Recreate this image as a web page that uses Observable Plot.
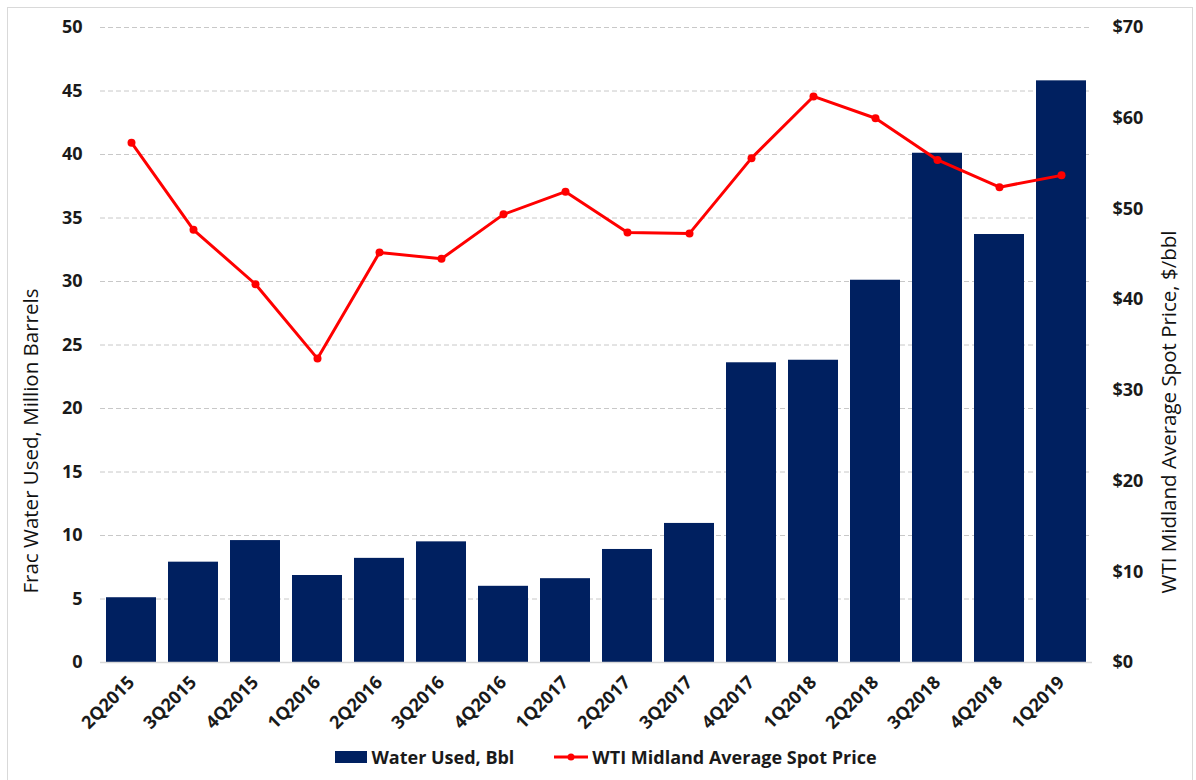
<!DOCTYPE html>
<html><head><meta charset="utf-8">
<script src="https://cdn.jsdelivr.net/npm/d3@7"></script>
<script src="https://cdn.jsdelivr.net/npm/@observablehq/plot@0.6"></script>
<style>
body{margin:0;background:#fff;font-family:"Open Sans",sans-serif;}
#frame{position:absolute;left:7px;top:7px;width:1186px;height:790px;border:1px solid #d9d9d9;box-sizing:border-box;}
#chart{position:absolute;left:0;top:0;}
#legend{position:absolute;top:745px;left:8px;width:1196px;display:flex;justify-content:center;gap:40px;font-weight:bold;font-size:18px;color:#1a1a1a;}
.li{display:flex;align-items:center;gap:4px;}
</style></head><body>
<div id="frame"></div>
<div id="chart"></div>
<div id="legend">
 <div class="li"><svg width="32" height="14"><rect x="0" y="1" width="32" height="12" fill="#002060"/></svg><span>Water Used, Bbl</span></div>
 <div class="li"><svg width="34" height="14"><line x1="0" y1="7" x2="34" y2="7" stroke="#ff0000" stroke-width="3"/><circle cx="17" cy="7" r="3.5" fill="#ff0000"/></svg><span>WTI Midland Average Spot Price</span></div>
</div>
<script>
const quarters = ["2Q2015","3Q2015","4Q2015","1Q2016","2Q2016","3Q2016","4Q2016","1Q2017","2Q2017","3Q2017","4Q2017","1Q2018","2Q2018","3Q2018","4Q2018","1Q2019"];
const waterUsed = [5.1,7.9,9.6,6.85,8.2,9.5,6.0,6.6,8.9,10.95,23.6,23.8,30.1,40.1,33.7,45.8];
const wtiPrice = [57.3,47.7,41.7,33.5,45.2,44.5,49.4,51.9,47.4,47.3,55.6,62.4,60.0,55.4,52.4,53.7];
const leftTicks = [0,5,10,15,20,25,30,35,40,45,50];
const rightTicks = [0,10,20,30,40,50,60,70];
const leftTitle = "Frac Water Used, Million Barrels";
const rightTitle = "WTI Midland Average Spot Price, $/bbl";

const k = 50/70;
const rows = quarters.map((q,i)=>({q, w: waterUsed[i], p: wtiPrice[i], ps: wtiPrice[i]*k}));

const chart = Plot.plot({
  width: 1196, height: 780,
  marginLeft: 100, marginRight: 104, marginTop: 27, marginBottom: 118,
  style: {fontFamily: "'Open Sans', sans-serif", fontSize: "18px", color: "#1a1a1a", background: "transparent"},
  x: {domain: quarters, paddingInner: 0.19, paddingOuter: 0.095},
  y: {domain: [0,50]},
  marks: [
    Plot.gridY(leftTicks.filter(d=>d>0), {stroke: "#c8c8c8", strokeDasharray: "5,3", strokeOpacity: 1}),
    Plot.barY(rows, {x: "q", y: "w", fill: "#002060"}),
    Plot.ruleY([0], {stroke: "#d9d9d9", strokeWidth: 1.5}),
    Plot.line(rows, {x: "q", y: "ps", stroke: "#ff0000", strokeWidth: 3}),
    Plot.dot(rows, {x: "q", y: "ps", fill: "#ff0000", r: 4}),
    Plot.axisY(leftTicks, {anchor: "left", tickSize: 0, tickPadding: 18, fontWeight: "bold", label: null}),
    Plot.axisY(rightTicks.map(d=>d*k), {anchor: "right", tickSize: 0, tickPadding: 20, fontWeight: "bold",
      tickFormat: d => "$" + Math.round(d/k), label: null}),
    Plot.axisX({tickSize: 0, tickPadding: 17, tickRotate: -45, fontWeight: "bold", label: null}),
    Plot.text([leftTitle], {text: d => d, frameAnchor: "bottom-left", dx: -63, dy: -69, rotate: -90,
      textAnchor: "start", fontSize: 20.5, fill: "#111"}),
    Plot.text([rightTitle], {text: d => d, frameAnchor: "bottom-right", dx: 83, dy: -69, rotate: -90,
      textAnchor: "start", fontSize: 20.5, fill: "#111"})
  ]
});
document.getElementById("chart").appendChild(chart);
</script>
</body></html>
